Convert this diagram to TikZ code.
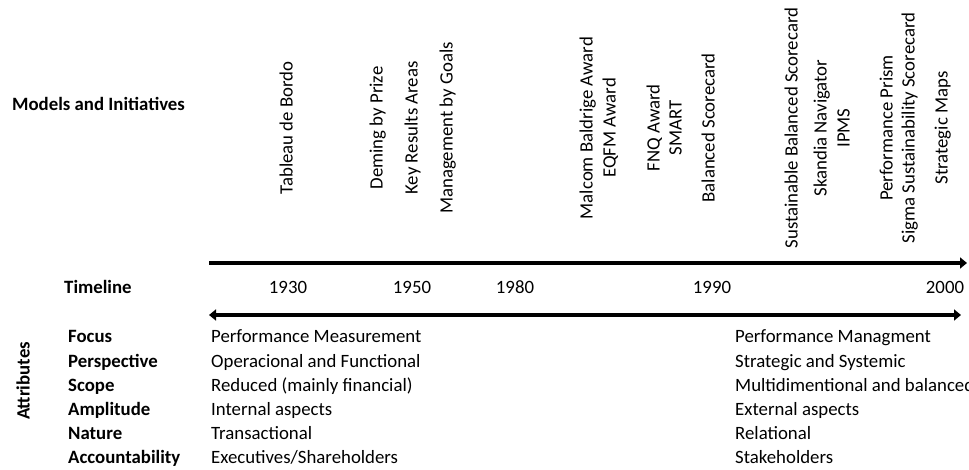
\documentclass[tikz,border=0pt]{standalone}
\usepackage{fontspec}
\setmainfont{Carlito}
\usetikzlibrary{arrows.meta,positioning}

\begin{document}
\begin{tikzpicture}[x=1pt,y=-1pt]
\tikzset{
     heading/.style={font=\fontsize{18.8}{22}\selectfont\bfseries, anchor=west, inner sep=0pt, text height=13pt, text depth=4pt},
     plain/.style={font=\fontsize{18.8}{22}\selectfont, anchor=west, inner sep=0pt, text height=13pt, text depth=4pt},
     model/.style={font=\fontsize{18.8}{22}\selectfont, rotate=90, inner sep=0pt, text height=13pt, text depth=4pt},
     year/.style={font=\fontsize{18.8}{22}\selectfont, inner sep=0pt, text height=13pt, text depth=4pt},
     timearrow/.style={line width=4pt, -{Triangle[length=7pt,width=11pt]}}}
\useasboundingbox (0,0) rectangle (969,470);
\clip (0,0) rectangle (969,470);

% The headings
\node (models) [heading] at (12,106) {Models and Initiatives};
\node (timeline) [heading] at (64,289) {Timeline};
\node (attributes) [heading, rotate=90, anchor=center] at (25,381) {Attributes};

% The models
\foreach \x/\name/\txt in {288/tableau/Tableau de Bordo, 378/deming/Deming by Prize,
    413/kra/Key Results Areas, 448/mbo/Management by Goals,
    588/baldrige/Malcom Baldrige Award, 611/eqfm/EQFM Award,
    655/fnq/FNQ Award, 677/smart/SMART, 710/bsc/Balanced Scorecard,
    793/sbsc/Sustainable Balanced Scorecard, 822/skandia/Skandia Navigator,
    845/ipms/IPMS, 888/prism/Performance Prism,
    910/sigma/Sigma Sustainability Scorecard, 943/maps/Strategic Maps}
  \node (\name) [model] at (\x,128) {\txt};

% The arrows
\coordinate (top start) at (209,263);
\coordinate (top end) at (967,263);
\coordinate (low start) at (209,315);
\coordinate (low end) at (961,315);
\draw [timearrow] (top start) -- (top end);
\draw [timearrow, {Triangle[length=7pt,width=11pt]}-{Triangle[length=7pt,width=11pt]}] (low start) -- (low end);

% The years
\foreach \x/\yr in {288/1930, 412/1950, 515/1980, 712/1990, 945/2000}
  \node (y\yr) [year] at (\x,289) {\yr};

% The attributes
\foreach \y/\name/\lbl/\old/\new in {338/focus/Focus/Performance Measurement/Performance Managment,
    363/persp/Perspective/Operacional and Functional/Strategic and Systemic,
    387/scope/Scope/Reduced (mainly financial)/Multidimentional and balanced,
    411/ampl/Amplitude/Internal aspects/External aspects,
    435/nature/Nature/Transactional/Relational,
    459/account/Accountability/{Executives/Shareholders}/Stakeholders}
{
  \node (\name) [heading] at (68,\y) {\lbl};
  \node (\name-old) [plain] at (211,\y) {\old};
  \node (\name-new) [plain] at (735,\y) {\new};
}
\end{tikzpicture}
\end{document}
